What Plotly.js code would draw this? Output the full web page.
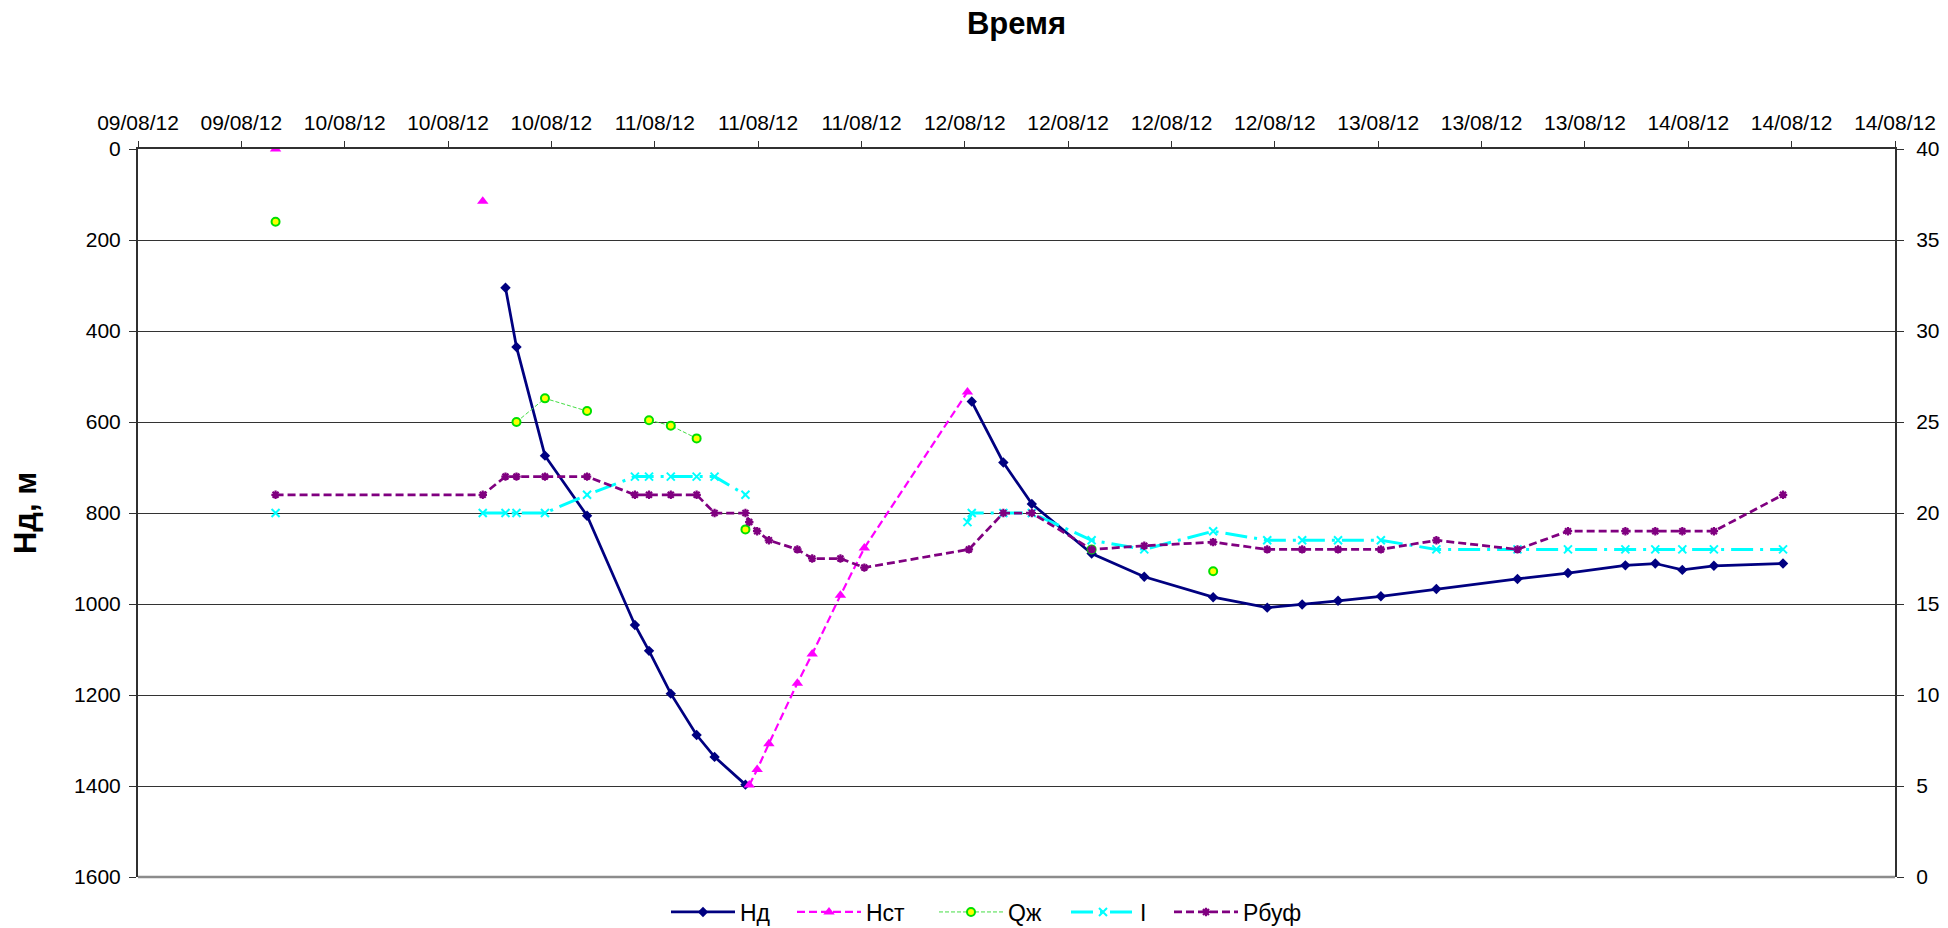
<!DOCTYPE html>
<html>
<head>
<meta charset="utf-8">
<script src="https://cdn.plot.ly/plotly-3.0.1.min.js"></script>
<style>
  html, body { margin: 0; padding: 0; background: #ffffff; }
  #chart { width: 1948px; height: 928px; }
</style>
</head>
<body>
<div id="chart"></div>
<script>
// Нд — динамический уровень, м (левая ось)
const hdTimes = ['2012-08-10 17:12','2012-08-10 17:58','2012-08-10 19:57','2012-08-10 22:53','2012-08-11 02:13','2012-08-11 03:12','2012-08-11 04:43','2012-08-11 06:31','2012-08-11 07:46','2012-08-11 09:55', null,
  '2012-08-12 01:41','2012-08-12 03:53','2012-08-12 05:52','2012-08-12 10:02','2012-08-12 13:42','2012-08-12 18:30','2012-08-12 22:16','2012-08-13 00:42','2012-08-13 03:12','2012-08-13 06:11','2012-08-13 10:03','2012-08-13 15:42','2012-08-13 19:13','2012-08-13 23:13','2012-08-14 01:18','2012-08-14 03:11','2012-08-14 05:23','2012-08-14 10:12'];
const hdValues = [305, 435, 674, 806, 1046, 1103, 1197, 1288, 1336, 1397, null,
  555, 689, 780, 889, 940, 985, 1008, 1001, 993, 983, 967, 945, 932, 915, 911, 925, 916, 911];

// Нст — статический уровень, м (левая ось)
const hstTimes = ['2012-08-10 01:11', null, '2012-08-10 15:37', null,
  '2012-08-11 10:11','2012-08-11 10:44','2012-08-11 11:33','2012-08-11 13:32','2012-08-11 14:34','2012-08-11 16:32','2012-08-11 18:12','2012-08-12 01:23'];
const hstValues = [0, null, 115, null, 1398, 1364, 1307, 1174, 1110, 981, 877, 534];

// Qж — дебит жидкости (правая ось)
const qTimes = ['2012-08-10 01:11', null, '2012-08-10 17:58','2012-08-10 19:57','2012-08-10 22:53', null,
  '2012-08-11 03:12','2012-08-11 04:43','2012-08-11 06:31', null, '2012-08-11 09:55', null, '2012-08-12 10:02', null, '2012-08-12 18:30'];
const qValues = [36, null, 25.0, 26.3, 25.6, null, 25.1, 24.8, 24.1, null, 19.1, null, 18.0, null, 16.8];

// I — ток (правая ось)
const iTimes = ['2012-08-10 01:11', null,
  '2012-08-10 15:37','2012-08-10 17:12','2012-08-10 17:58','2012-08-10 19:57','2012-08-10 22:53','2012-08-11 02:13','2012-08-11 03:12','2012-08-11 04:43','2012-08-11 06:31','2012-08-11 07:46','2012-08-11 09:55', null,
  '2012-08-12 01:23','2012-08-12 01:41','2012-08-12 03:53','2012-08-12 05:52','2012-08-12 10:02','2012-08-12 13:42','2012-08-12 18:30','2012-08-12 22:16','2012-08-13 00:42','2012-08-13 03:12','2012-08-13 06:11','2012-08-13 10:03','2012-08-13 15:42','2012-08-13 19:13','2012-08-13 23:13','2012-08-14 01:18','2012-08-14 03:11','2012-08-14 05:23','2012-08-14 10:12'];
const iValues = [20, null,
  20, 20, 20, 20, 21, 22, 22, 22, 22, 22, 21, null,
  19.5, 20, 20, 20, 18.5, 18, 19, 18.5, 18.5, 18.5, 18.5, 18, 18, 18, 18, 18, 18, 18, 18];

// Рбуф — буферное давление (правая ось)
const pTimes = ['2012-08-10 01:11','2012-08-10 15:37','2012-08-10 17:12','2012-08-10 17:58','2012-08-10 19:57','2012-08-10 22:53','2012-08-11 02:13','2012-08-11 03:12','2012-08-11 04:43','2012-08-11 06:31','2012-08-11 07:46','2012-08-11 09:55',
  '2012-08-11 10:11','2012-08-11 10:44','2012-08-11 11:33','2012-08-11 13:32','2012-08-11 14:34','2012-08-11 16:32','2012-08-11 18:12','2012-08-12 01:29','2012-08-12 03:53','2012-08-12 05:52','2012-08-12 10:02','2012-08-12 13:42','2012-08-12 18:30','2012-08-12 22:16',
  '2012-08-13 00:42','2012-08-13 03:12','2012-08-13 06:11','2012-08-13 10:03','2012-08-13 15:42','2012-08-13 19:13','2012-08-13 23:13','2012-08-14 01:18','2012-08-14 03:11','2012-08-14 05:23','2012-08-14 10:12'];
const pValues = [21, 21, 22, 22, 22, 22, 21, 21, 21, 21, 20, 20,
  19.5, 19, 18.5, 18, 17.5, 17.5, 17, 18, 20, 20, 18, 18.2, 18.4, 18,
  18, 18, 18, 18.5, 18, 19, 19, 19, 19, 19, 21];

// Шкала времени: деления через 0,3 суток
const timeStart = '2012-08-09 15:36';
const timeEnd = '2012-08-14 18:00';
const tickStepMs = 0.3 * 24 * 3600 * 1000;

const FONT = 'Liberation Sans, Arial, sans-serif';
const AXIS_COLOR = '#303030';
const W = 1948, H = 928;

const traces = [
  {
    name: 'Нд', x: hdTimes, y: hdValues, yaxis: 'y', type: 'scatter', mode: 'lines+markers', legend: 'legend',
    line: { color: '#000080', width: 2.75 },
    marker: { symbol: 'diamond', size: 8, color: '#000080' }
  },
  {
    name: 'Нст', x: hstTimes, y: hstValues, yaxis: 'y', type: 'scatter', mode: 'lines+markers', legend: 'legend2',
    line: { color: '#FF00FF', width: 2.2, dash: '8px,4px' },
    marker: { symbol: 'triangle-up', size: 10, color: '#FF00FF' }
  },
  {
    name: 'Qж', x: qTimes, y: qValues, yaxis: 'y2', type: 'scatter', mode: 'lines+markers', legend: 'legend3',
    line: { color: '#44DD44', width: 1, dash: '4px,2px' },
    marker: { symbol: 'circle', size: 8, color: '#FFFF00', line: { color: '#00E000', width: 2 } }
  },
  {
    name: 'I', x: iTimes, y: iValues, yaxis: 'y2', type: 'scatter', mode: 'lines+markers', legend: 'legend4',
    line: { color: '#00FFFF', width: 3, dash: '22px,7px,3px,7px' },
    marker: { symbol: 'x-thin', size: 8, color: '#00FFFF', line: { color: '#00FFFF', width: 2 } }
  },
  {
    name: 'Рбуф', x: pTimes, y: pValues, yaxis: 'y2', type: 'scatter', mode: 'lines+markers', legend: 'legend5',
    line: { color: '#800080', width: 2.75, dash: '8px,4px' },
    marker: { symbol: 'asterisk', size: 7, color: '#800080', line: { color: '#800080', width: 2.2 } }
  }
];

// Легенда внизу: по одному блоку на ряд, в одну строку
function legendAt(px) {
  return {
    orientation: 'h',
    xref: 'container', yref: 'container',
    x: (px - 5) / W, xanchor: 'left',
    y: (H - 912) / H, yanchor: 'middle',
    font: { family: FONT, size: 23, color: '#000000' },
    itemwidth: 64,
    bgcolor: 'rgba(0,0,0,0)',
    borderwidth: 0
  };
}

const layout = {
  width: W,
  height: H,
  paper_bgcolor: '#ffffff',
  plot_bgcolor: '#ffffff',
  margin: { l: 138, r: 53, t: 149, b: 51, autoexpand: false },
  font: { family: FONT, size: 21, color: '#000000' },
  title: {
    text: '<b>Время</b>',
    font: { family: FONT, size: 31, color: '#000000' },
    x: 0.5, xref: 'paper',
    y: 1 - 23 / H, yref: 'container', yanchor: 'middle'
  },
  showlegend: true,
  legend: legendAt(671),
  legend2: legendAt(797),
  legend3: legendAt(939),
  legend4: legendAt(1071),
  legend5: legendAt(1174),
  xaxis: {
    type: 'date',
    side: 'top',
    range: [timeStart, timeEnd],
    tick0: timeStart,
    dtick: tickStepMs,
    tickformat: '%d/%m/%y',
    showgrid: false,
    zeroline: false,
    showline: true, linecolor: AXIS_COLOR, linewidth: 2,
    ticks: 'outside', ticklen: 6, tickcolor: AXIS_COLOR, tickwidth: 1,
    ticklabelstandoff: 3,
    tickfont: { family: FONT, size: 21, color: '#000000' },
    automargin: false
  },
  yaxis: {
    range: [1600, 0],
    dtick: 200,
    showgrid: true, gridcolor: '#333333', gridwidth: 1,
    zeroline: false,
    showline: true, linecolor: AXIS_COLOR, linewidth: 2,
    ticks: 'outside', ticklen: 7, tickcolor: AXIS_COLOR, tickwidth: 1,
    ticklabelstandoff: 4,
    tickfont: { family: FONT, size: 21, color: '#000000' },
    title: { text: '<b>Нд, м</b>', font: { family: FONT, size: 31, color: '#000000' }, standoff: 28 },
    automargin: false
  },
  yaxis2: {
    overlaying: 'y',
    side: 'right',
    range: [0, 40],
    dtick: 5,
    showgrid: false,
    zeroline: false,
    showline: true, linecolor: AXIS_COLOR, linewidth: 2,
    ticks: 'outside', ticklen: 7, tickcolor: AXIS_COLOR, tickwidth: 1,
    ticklabelstandoff: 8,
    tickfont: { family: FONT, size: 21, color: '#000000' },
    automargin: false
  },
  shapes: [
    {
      type: 'line', xref: 'paper', yref: 'paper',
      x0: 0, x1: 1, y0: 0, y1: 0,
      line: { color: '#8c8c8c', width: 2.5 },
      layer: 'above'
    }
  ]
};

Plotly.newPlot('chart', traces, layout, { displayModeBar: false, staticPlot: true });
</script>
</body>
</html>
